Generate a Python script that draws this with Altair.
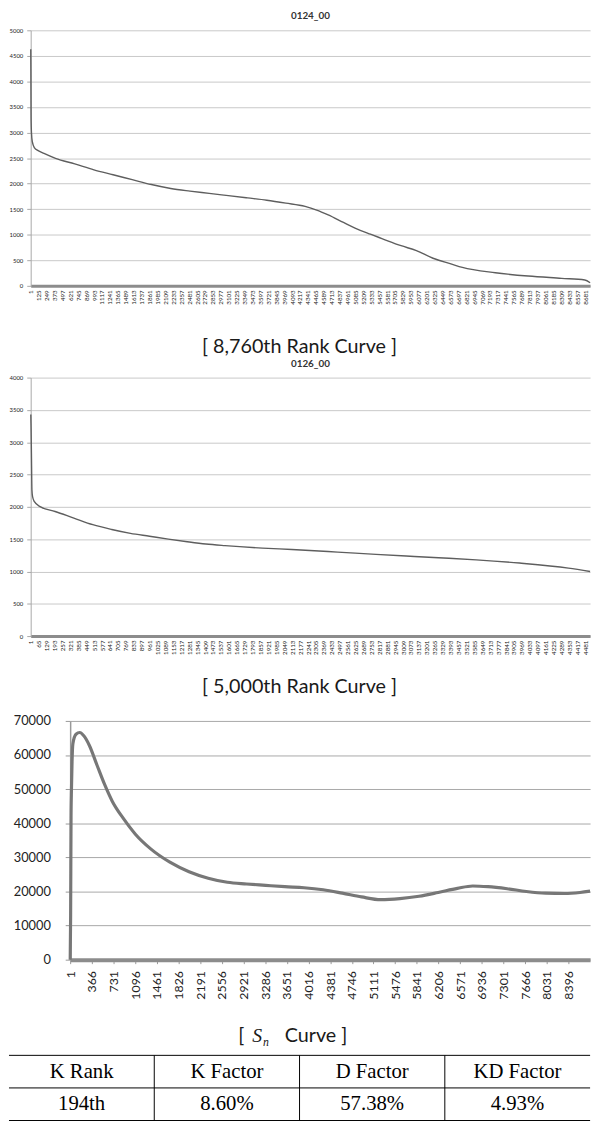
import altair as alt
import pandas as pd

# ---------------- data ----------------
# Chart 1: 0124_00  (8,760th rank curve)
R1 = [1, 3, 6, 12, 25, 60, 110, 208, 389, 690, 990, 1290, 1590, 1890, 2193, 2494,
      2795, 3095, 3397, 3697, 3996, 4297, 4478, 4659, 4898, 5079, 5320, 5500, 5800,
      6040, 6300, 6580, 6760, 7276, 7790, 8314, 8677, 8760]
V1 = [4630, 4200, 3300, 3000, 2820, 2700, 2650, 2590, 2494, 2385, 2270, 2174, 2078,
      1982, 1905, 1854, 1810, 1765, 1720, 1675, 1618, 1554, 1483, 1387, 1240, 1131,
      1010, 925, 785, 690, 540, 430, 360, 256, 192, 147, 115, 60]
XT1 = list(range(1, 8760, 124))
YT1 = [0, 500, 1000, 1500, 2000, 2500, 3000, 3500, 4000, 4500, 5000]

# Chart 2: 0126_00  (5,000th rank curve)
R2 = [1, 3, 6, 10, 15, 30, 76, 197, 349, 502, 655, 806, 960, 1112, 1265, 1415, 1570,
      1873, 2110, 2480, 2790, 3100, 3295, 3600, 3950, 4345, 4520]
V2 = [3430, 3230, 2820, 2260, 2160, 2080, 2004, 1928, 1826, 1724, 1650, 1590, 1545,
      1500, 1460, 1425, 1400, 1362, 1340, 1300, 1265, 1232, 1212, 1180, 1130, 1052, 1000]
XT2 = list(range(1, 4520, 64))
YT2 = [0, 500, 1000, 1500, 2000, 2500, 3000, 3500, 4000]

# Chart 3: S_n curve
R3 = [1, 8, 15, 22, 32, 46, 98, 162, 227, 324, 453, 582, 711, 905, 1099, 1357, 1680,
      2003, 2326, 2649, 2972, 3294, 3617, 3940, 4263, 4586, 4909, 5232, 5555, 5878,
      6201, 6524, 6782, 7040, 7363, 7686, 8009, 8332, 8590, 8760]
V3 = [0, 13000, 42000, 50000, 58000, 63300, 66100, 66600, 65700, 62800, 57000, 51300,
      46400, 41200, 36800, 32500, 28600, 25800, 23900, 22700, 22200, 21800, 21400,
      21100, 20500, 19500, 18400, 17600, 17900, 18600, 19700, 20900, 21600, 21400,
      20800, 20000, 19500, 19400, 19700, 20100]
XT3 = list(range(1, 8760, 365))
YT3 = [0, 10000, 20000, 30000, 40000, 50000, 60000, 70000]

# Table
HEAD = ["K Rank", "K Factor", "D Factor", "KD Factor"]
VALS = ["194th", "8.60%", "57.38%", "4.93%"]

TITLE1 = "0124_00"
TITLE2 = "0126_00"
CAP1 = "[ 8,760th Rank Curve ]"
CAP2 = "[ 5,000th Rank Curve ]"

SANS = "Lato"
SERIF = "Liberation Serif"
W = 567


def small_chart(ranks, vals, xticks, yticks, xmax, ymax, title, cap, height, cap_y, toff):
    df = pd.DataFrame({"rank": ranks, "value": vals})
    return alt.Chart(df).mark_line(
        color="#5e5e5e", strokeWidth=1.4, interpolate="monotone"
    ).encode(
        x=alt.X("rank:Q",
                scale=alt.Scale(domain=[0, xmax], nice=False, zero=False),
                axis=alt.Axis(values=xticks, format="d", labelAngle=270, labelFontSize=6.3,
                              labelFont=SANS, labelColor="#222", labelOverlap=False,
                              labelFlush=False, labelBound=False, ticks=False,
                              labelPadding=4, grid=False, domainColor="#8c8c8c",
                              domainWidth=3, title=cap, titleFont=SANS,
                              titleFontSize=20, titleFontWeight="normal",
                              titleColor="#1a1a1a", titleX=272, titleY=cap_y,
                              titleBaseline="middle", titleAlign="center")),
        y=alt.Y("value:Q",
                scale=alt.Scale(domain=[0, ymax], nice=False),
                axis=alt.Axis(values=yticks, format="d", labelFontSize=6, labelFont=SANS,
                              labelColor="#222", tickSize=4, tickColor="#a8a8a8",
                              labelPadding=4, domainColor="#a8a8a8", gridColor="#c8c8c8",
                              gridWidth=1, title=None)),
    ).properties(
        width=W, height=height,
        title=alt.TitleParams(title, font=SANS, fontSize=10, fontWeight="bold",
                              color="#333", anchor="middle", offset=toff),
    )


c1 = small_chart(R1, V1, XT1, YT1, 8760, 5000, TITLE1, CAP1, 259, 62, 6)
c2 = small_chart(R2, V2, XT2, YT2, 4520, 4000, TITLE2, CAP2, 262, 51, 6)

df3 = pd.DataFrame({"rank": R3, "value": V3})
c3 = alt.Chart(df3).mark_line(
    color="#777777", strokeWidth=3.2, interpolate="monotone"
).encode(
    x=alt.X("rank:Q",
            scale=alt.Scale(domain=[0, 8760], range=[40, W], nice=False, zero=False),
            axis=alt.Axis(values=XT3, format="d", labelAngle=270, labelFontSize=12.5,
                          labelFont=SANS, labelColor="#222", labelOverlap=False,
                          labelFlush=False, labelBound=False, ticks=True, tickSize=4,
                          tickColor="#999999", labelPadding=7, grid=False,
                          domainColor="#8c8c8c", domainWidth=4, title=None)),
    y=alt.Y("value:Q",
            scale=alt.Scale(domain=[0, 70000], nice=False),
            axis=alt.Axis(values=YT3, format="d", labelFontSize=13, labelFont=SANS,
                          labelColor="#222", tickSize=5, tickColor="#999999",
                          labelPadding=15, offset=-40, domainColor="#999999",
                          domainWidth=1.5, gridColor="#a8a8a8", gridWidth=1, title=None)),
).properties(width=W, height=242)

# ---------------- table panel ----------------
xs = alt.Scale(domain=[0, 4], range=[-22, W], nice=False, zero=False)
ys = alt.Scale(domain=[-1.15, 2], nice=False, zero=False, reverse=True)

cells = pd.DataFrame({
    "col": [0.5, 1.5, 2.5, 3.5] * 2,
    "row": [0.5] * 4 + [1.5] * 4,
    "label": HEAD + VALS,
})
hl = pd.DataFrame({"x": [0, 0, 0], "x2": [4, 4, 4], "y": [0, 1, 2]})
vl = pd.DataFrame({"x": [1, 2, 3], "y": [0, 0, 0], "y2": [2, 2, 2]})
capd = pd.DataFrame({"x": [2], "y": [-0.6]})

txt = alt.Chart(cells).mark_text(font=SERIF, fontSize=21, color="#000").encode(
    x=alt.X("col:Q", scale=xs, axis=None),
    y=alt.Y("row:Q", scale=ys, axis=None),
    text="label:N",
)
hrule = alt.Chart(hl).mark_rule(color="#000", strokeWidth=1).encode(
    x=alt.X("x:Q", scale=xs, axis=None), x2="x2:Q",
    y=alt.Y("y:Q", scale=ys, axis=None),
)
vrule = alt.Chart(vl).mark_rule(color="#000", strokeWidth=1).encode(
    x=alt.X("x:Q", scale=xs, axis=None),
    y=alt.Y("y:Q", scale=ys, axis=None), y2="y2:Q",
)


def cap_piece(text, dx, font, size, style="normal", dy=0):
    return alt.Chart(capd).mark_text(
        text=text, font=font, fontSize=size, fontStyle=style, align="left",
        baseline="middle", dx=dx, dy=dy, color="#1a1a1a",
    ).encode(x=alt.X("x:Q", scale=xs, axis=None), y=alt.Y("y:Q", scale=ys, axis=None))


cap3 = [
    cap_piece("[", -62, SANS, 20),
    cap_piece("S", -48, SERIF, 20, "italic"),
    cap_piece("n", -37, SERIF, 12, "italic", dy=6),
    cap_piece("Curve ]", -15, SANS, 20),
]

table = alt.layer(hrule, vrule, txt, *cap3).properties(width=W, height=104)

top = alt.vconcat(c1, c2, spacing=2)
bottom = alt.vconcat(c3, table, spacing=19)
chart = alt.vconcat(top, bottom, spacing=19).properties(
    padding={"top": -4, "left": 0, "right": 0, "bottom": 0}, background="white"
).configure_view(strokeWidth=0)

chart.save("out.html", embed_options={"renderer": "svg", "actions": False})
